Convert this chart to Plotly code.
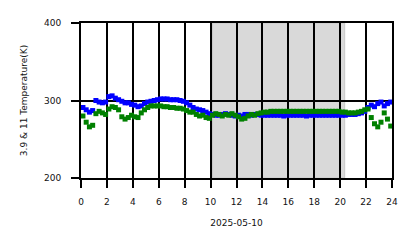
import plotly.graph_objects as go

# sample times (hours of 2025-05-10), every 15 minutes
hours = [round(0.15 + 0.25 * i, 3) for i in range(96)]

ch39_K = [
    291, 288, 285, 287,   # 0h
    300, 298, 297, 298,   # 1h
    305, 306, 303, 301,   # 2h
    299, 297, 297, 295,   # 3h
    294, 292, 293, 296,   # 4h
    298, 299, 300, 301,   # 5h
    302, 302, 302, 301,   # 6h
    301, 301, 300, 299,   # 7h
    297, 294, 291, 289,   # 8h
    288, 287, 285, 283,   # 9h
    282, 281, 281, 282,   # 10h
    283, 282, 281, 280,   # 11h
    281, 280, 282, 282,   # 12h
    281, 282, 282, 281,   # 13h
    281, 281, 281, 281,   # 14h
    281, 281, 280, 281,   # 15h
    281, 281, 281, 281,   # 16h
    281, 280, 281, 281,   # 17h
    281, 281, 281, 281,   # 18h
    281, 281, 281, 281,   # 19h
    281, 281, 282, 282,   # 20h
    282, 283, 284, 286,   # 21h
    291, 294, 292, 296,   # 22h
    298, 293, 296, 298,   # 23h
]

ch11_K = [
    280, 272, 266, 268,   # 0h
    283, 286, 284, 282,   # 1h
    289, 292, 291, 288,   # 2h
    279, 276, 278, 281,   # 3h
    279, 278, 284, 288,   # 4h
    291, 293, 293, 293,   # 5h
    293, 292, 292, 291,   # 6h
    291, 290, 290, 289,   # 7h
    287, 285, 285, 282,   # 8h
    280, 281, 278, 277,   # 9h
    281, 283, 282, 280,   # 10h
    282, 281, 283, 281,   # 11h
    279, 276, 277, 280,   # 12h
    282, 281, 283, 284,   # 13h
    285, 285, 286, 286,   # 14h
    286, 286, 286, 286,   # 15h
    286, 286, 286, 286,   # 16h
    286, 286, 286, 286,   # 17h
    286, 286, 286, 286,   # 18h
    286, 286, 286, 286,   # 19h
    285, 285, 284, 284,   # 20h
    284, 285, 286, 288,   # 21h
    289, 278, 270, 266,   # 22h
    272, 284, 276, 267,   # 23h
]

night_start, night_end = 10.15, 20.35
x_ticks = list(range(0, 25, 2))
y_ticks = [200, 300, 400]

fig = go.Figure()
fig.add_trace(go.Scatter(x=hours, y=ch39_K, mode="markers",
                         marker=dict(symbol="square", size=5, color="#0000ff",
                                     line=dict(width=0)),
                         name="3.9"))
fig.add_trace(go.Scatter(x=hours, y=ch11_K, mode="markers",
                         marker=dict(symbol="square", size=5, color="#008000",
                                     line=dict(width=0)),
                         name="11"))

fig.add_shape(type="rect", xref="x", yref="y", x0=night_start, x1=night_end,
              y0=200, y1=400, fillcolor="#d9d9d9",
              line=dict(color="#c8c8c8", width=1), layer="below")

fig.update_layout(
    width=418, height=248,
    margin=dict(l=81, r=26, t=23, b=70),
    paper_bgcolor="white", plot_bgcolor="white",
    showlegend=False,
    font=dict(family="DejaVu Sans", size=9, color="#111111"),
    xaxis=dict(range=[0, 24], tickvals=x_ticks, ticktext=[str(v) for v in x_ticks],
               showgrid=True, gridcolor="black", gridwidth=2,
               ticks="outside", ticklen=8, tickwidth=2, tickcolor="black",
               ticklabelstandoff=6,
               showline=True, linecolor="black", linewidth=2, mirror=True,
               zeroline=False,
               title=dict(text="2025-05-10", font=dict(size=9), standoff=14)),
    yaxis=dict(range=[200, 400], tickvals=y_ticks,
               showgrid=True, gridcolor="black", gridwidth=2,
               ticks="outside", ticklen=8, tickwidth=2, tickcolor="black",
               ticklabelstandoff=8,
               showline=True, linecolor="black", linewidth=2, mirror=True,
               zeroline=False,
               title=dict(text="3.9 & 11 Temperature(K)", font=dict(size=9), standoff=15)),
)

fig.write_html("out.html")
